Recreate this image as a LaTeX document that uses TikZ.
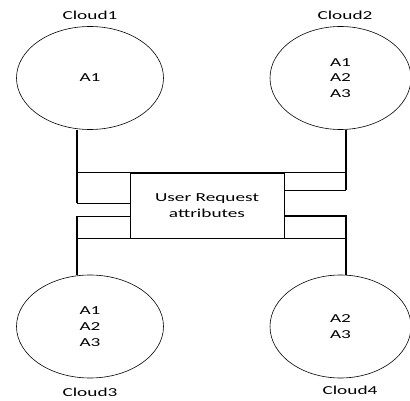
\documentclass[tikz,border=0pt]{standalone}
\usepackage{fontspec}
\setmainfont[FakeStretch=1.58]{Carlito}
\usetikzlibrary{shapes.geometric}

\tikzset{
  cloud/.style={draw, ellipse, line width=0.6pt, minimum width=147pt,
    minimum height=103pt, inner sep=0pt, align=center,
    font=\fontsize{12.2}{15.8}\selectfont},
  cloudname/.style={anchor=base, font=\fontsize{12.2}{15.8}\selectfont},
  request/.style={draw, line width=0.9pt, minimum width=154pt,
    minimum height=65pt, inner sep=0pt, align=center,
    font=\fontsize{12.2}{15.3}\selectfont},
  link/.style={line width=1.6pt},
  bar/.style={line width=0.9pt}
}

\begin{document}
\begin{tikzpicture}[x=1pt,y=-1pt]
\useasboundingbox (0,0) rectangle (410,401);

% the four clouds
\node[cloud] (c1) at (90,78) {A1};
\node[cloud, minimum width=141pt] (c2) at (340.5,78) {A1\\A2\\A3};
\node[cloud] (c3) at (90,326.5) {A1\\A2\\A3};
\node[cloud, minimum width=141pt] (c4) at (340.5,326.5) {A2\\A3};

\node[cloudname] (n1) at (90,20) {Cloud1};
\node[cloudname] (n2) at (345,20) {Cloud2};
\node[cloudname] (n3) at (90,396) {Cloud3};
\node[cloudname] (n4) at (350,394) {Cloud4};

% request box in the middle
\node[request] (ur) at (207,205.5) {User Request\\attributes};

\coordinate (lx) at (77,0);
\coordinate (rx) at (346,0);
\coordinate (s1) at (ur.west |- 0,203);
\coordinate (s2) at (ur.east |- 0,190);
\coordinate (s3) at (ur.west |- 0,216);
\coordinate (s4) at (ur.east |- 0,216);

% bars along the box
\draw[bar] (lx |- ur.north) -- (rx |- ur.north);
\draw[bar] (lx |- ur.south) -- (rx |- ur.south);

% links from the clouds
\draw[link] (c1.south -| lx) -- (lx |- s1);
\draw[bar] (lx |- s1) -- (s1);
\draw[link] (c2.south -| rx) -- (rx |- s2);
\draw[bar] (rx |- s2) -- (s2);
\draw[link] (c3.north -| lx) -- (lx |- s3);
\draw[bar] (lx |- s3) -- (s3);
\draw[link] (c4.north -| rx) -- (rx |- s4) -- (s4);

\end{tikzpicture}
\end{document}
